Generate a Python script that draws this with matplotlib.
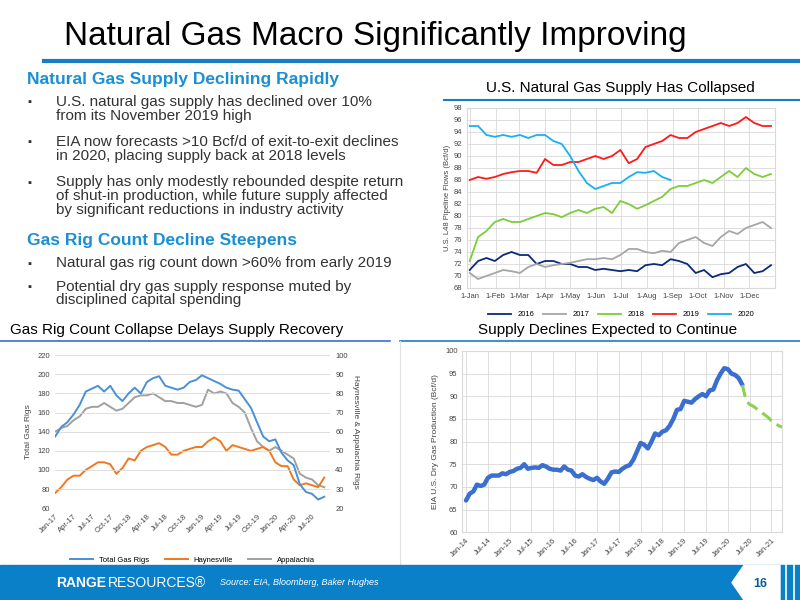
import numpy as np
import matplotlib.pyplot as plt
from matplotlib.patches import Rectangle, Polygon
from matplotlib.lines import Line2D

plt.rcParams['font.family'] = ['Liberation Sans', 'DejaVu Sans']

# ---- top right: daily pipeline flows, sampled every 10 days ----
days = np.arange(0, 361, 10)
flow_2016 = [71, 72.5, 73, 72.5, 73.5, 74, 73.5, 73.5, 72, 72.5, 72.5, 72, 72, 71.5, 71.5, 71, 71.2, 71, 70.8,
             71, 70.8, 71.8, 72, 71.8, 72.8, 72.5, 72, 70.5, 71, 69.8, 70.3, 70.5, 71.5, 72, 70.5, 70.8, 71.8]
flow_2017 = [70.5, 69.5, 70, 70.5, 71, 70.8, 70.5, 71.5, 72, 71.5, 71.8, 72, 72.2, 72.5, 72.8, 72.8, 73, 72.8, 73.5,
             74.5, 74.5, 74, 73.8, 74.2, 74, 75.5, 76, 76.5, 75.5, 75, 76.5, 77.5, 77, 78, 78.5, 79, 78]
flow_2018 = [72.5, 76.5, 77.5, 79, 79.5, 79, 79, 79.5, 80, 80.5, 80.3, 79.8, 80.5, 81, 80.5, 81.2, 81.5, 80.5, 82.5,
             82, 81.2, 81.8, 82.5, 83.2, 84.5, 85, 85, 85.5, 86, 85.5, 86.5, 87.5, 86.5, 88, 87, 86.5, 87]
flow_2019 = [86, 86.5, 86.2, 86.5, 87, 87.3, 87.5, 87.5, 87.2, 89.5, 88.5, 88.5, 89, 89, 89.5, 90, 89.5, 90, 91,
             88.8, 89.5, 91.5, 92, 92.5, 93.5, 93, 93, 94, 94.5, 95, 95.5, 95, 95.5, 96.5, 95.5, 95, 95]
flow_2020 = [95, 95, 93.5, 93.2, 93.5, 93.2, 93.5, 93, 93.5, 93.5, 92.5, 92, 90, 87.5, 85.5, 84.5, 85, 85.5, 85.5,
             86.5, 87.3, 87.2, 87.5, 86.5, 86]
month_starts = [0, 31, 59, 90, 120, 151, 181, 212, 243, 273, 304, 334]
month_labels = ['1-Jan', '1-Feb', '1-Mar', '1-Apr', '1-May', '1-Jun', '1-Jul', '1-Aug', '1-Sep', '1-Oct', '1-Nov', '1-Dec']

# ---- bottom left: rig counts, monthly Jan-17 .. Sep-20 ----
rig_months = np.arange(45)
total_rigs = [135, 145, 150, 158, 168, 182, 185, 188, 182, 188, 178, 172,
              180, 186, 180, 192, 196, 198, 188, 186, 184, 186, 192, 194,
              199, 196, 193, 190, 186, 184, 183, 174, 165, 150, 135, 130,
              132, 118, 110, 105, 85, 77, 75, 69, 72]
haynesville = [28, 31, 35, 37, 37, 40, 42, 44, 44, 43, 38, 41,
               46, 45, 50, 52, 53, 54, 52, 48, 48, 50, 51, 52,
               52, 55, 57, 55, 50, 53, 52, 51, 50, 51, 52, 50,
               44, 42, 42, 35, 32, 33, 32, 31, 36]
appalachia = [60, 62, 63, 66, 68, 72, 73, 73, 75, 73, 71, 72,
              75, 78, 79, 79, 80, 78, 76, 76, 75, 75, 74, 73,
              74, 82, 80, 81, 80, 75, 73, 70, 62, 55, 52, 50,
              52, 50, 48, 46, 38, 36, 35, 32, 31]
rig_ticks = ['Jan-17', 'Apr-17', 'Jul-17', 'Oct-17', 'Jan-18', 'Apr-18', 'Jul-18', 'Oct-18',
             'Jan-19', 'Apr-19', 'Jul-19', 'Oct-19', 'Jan-20', 'Apr-20', 'Jul-20']

# ---- bottom right: EIA dry gas production, monthly Jan-14 .. ----
prod_hist = [67, 68.5, 69, 70.5, 70.2, 70.5, 72, 72.5, 72.5, 72.5, 73, 72.8,
             73.3, 73.5, 74, 74.2, 75, 74, 74.2, 74.3, 74.2, 74.8, 74.5, 74,
             73.8, 73.8, 73.6, 74.5, 73.8, 73.6, 72.5, 72.3, 72.8, 72.2, 71.8, 71.5,
             72, 71.2, 70.7, 71.8, 73.2, 73.4, 73.3, 74, 74.5, 74.8, 76, 77.8,
             79.7, 79.3, 78.5, 80, 81.8, 81.4, 82.2, 82.5, 83.5, 85, 87, 87.2,
             89, 88.8, 88.6, 89.4, 90, 90.5, 90, 91.3, 91.5, 93.5, 95, 96.2,
             96, 95, 94.7, 94, 92.5]
prod_fcst = [92.5, 89, 88.2, 87.8, 87.2, 86.6, 86, 85.4, 84.6, 84, 83.5, 83.2]
prod_ticks = ['Jan-14', 'Jul-14', 'Jan-15', 'Jul-15', 'Jan-16', 'Jul-16', 'Jan-17', 'Jul-17',
              'Jan-18', 'Jul-18', 'Jan-19', 'Jul-19', 'Jan-20', 'Jul-20', 'Jan-21']

BLUE = '#1a8fd4'
TXT = '#333333'
GRID = '#d9d9d9'

fig = plt.figure(figsize=(8, 6), dpi=100)

# title and rules
fig.text(0.08, 0.94, 'Natural Gas Macro Significantly Improving', fontsize=24, va='center', color='black')
fig.add_artist(Line2D([0.055, 1.0], [0.899, 0.899], color='#1a7cc4', lw=3))

# left text block
fig.text(0.034, 0.868, 'Natural Gas Supply Declining Rapidly', fontsize=12.5, color=BLUE, weight='bold', va='center')
bullets = [(0.842, 'U.S. natural gas supply has declined over 10%\nfrom its November 2019 high'),
           (0.775, 'EIA now forecasts >10 Bcf/d of exit-to-exit declines\nin 2020, placing supply back at 2018 levels'),
           (0.708, 'Supply has only modestly rebounded despite return\nof shut-in production, while future supply affected\nby significant reductions in industry activity')]
for y, t in bullets:
    fig.text(0.034, y - 0.004, '\u25aa', fontsize=8, color=TXT, va='top')
    fig.text(0.07, y, t, fontsize=11, color=TXT, va='top', linespacing=0.98)
fig.text(0.034, 0.600, 'Gas Rig Count Decline Steepens', fontsize=12.5, color=BLUE, weight='bold', va='center')
for y, t in [(0.573, 'Natural gas rig count down >60% from early 2019'),
             (0.534, 'Potential dry gas supply response muted by\ndisciplined capital spending')]:
    fig.text(0.034, y - 0.004, '\u25aa', fontsize=8, color=TXT, va='top')
    fig.text(0.07, y, t, fontsize=11, color=TXT, va='top', linespacing=0.98)

# chart subtitles
fig.text(0.775, 0.853, 'U.S. Natural Gas Supply Has Collapsed', fontsize=11, ha='center', va='center', color='black')
fig.add_artist(Line2D([0.555, 1.0], [0.833, 0.833], color='#1a7cc4', lw=1.5))
fig.text(0.013, 0.450, 'Gas Rig Count Collapse Delays Supply Recovery', fontsize=11, va='center', color='black')
fig.text(0.76, 0.450, 'Supply Declines Expected to Continue', fontsize=11, ha='center', va='center', color='black')
fig.add_artist(Line2D([0.0, 0.488], [0.432, 0.432], color='#3a70c8', lw=1.2))
fig.add_artist(Line2D([0.5, 1.0], [0.432, 0.432], color='#1a7cc4', lw=1.2))
fig.add_artist(Line2D([0.5, 0.5], [0.06, 0.432], color='#e0e0e0', lw=0.8))

# ---- top-right chart ----
ax1 = fig.add_axes([0.584, 0.52, 0.385, 0.30])
for vals, col, lab in [(flow_2016, '#0b2a78', '2016'), (flow_2017, '#a6a6a6', '2017'),
                       (flow_2018, '#7dcc3a', '2018'), (flow_2019, '#ff1a1a', '2019'),
                       (flow_2020, '#18b0f0', '2020')]:
    ax1.plot(days[:len(vals)], vals, color=col, lw=1.3, label=lab)
ax1.set_xlim(-3, 365)
ax1.set_ylim(68, 98)
ax1.set_yticks(np.arange(68, 99, 2))
ax1.set_xticks(month_starts)
ax1.set_xticklabels(month_labels)
ax1.grid(True, color=GRID, lw=0.6)
ax1.tick_params(labelsize=5.5, length=0, colors='#444444')
for s in ax1.spines.values():
    s.set_color(GRID)
ax1.set_ylabel('U.S. L48 Pipeline Flows (Bcf/d)', fontsize=5.5, color='#444444', labelpad=2)
ax1.legend(loc='upper center', bbox_to_anchor=(0.5, -0.09), ncol=5, fontsize=5.5, frameon=False,
           handlelength=3, columnspacing=1.2)

# ---- bottom-left chart ----
ax2 = fig.add_axes([0.069, 0.153, 0.344, 0.255])
ax2.plot(rig_months, total_rigs, color='#4a90d8', lw=1.4, label='Total Gas Rigs')
ax2.set_ylim(60, 220)
ax2.set_yticks(np.arange(60, 221, 20))
ax2b = ax2.twinx()
ax2b.plot(rig_months, appalachia, color='#a0a0a0', lw=1.4, label='Appalachia')
ax2b.plot(rig_months, haynesville, color='#f07820', lw=1.4, label='Haynesville')
ax2b.set_ylim(20, 100)
ax2.set_zorder(ax2b.get_zorder() + 1)
ax2.patch.set_visible(False)
ax2.set_xlim(0, 45)
ax2.set_xticks(np.arange(0, 45, 3))
ax2.set_xticklabels(rig_ticks, rotation=45, ha='right', rotation_mode='anchor')
ax2.grid(True, axis='y', color=GRID, lw=0.6)
for a in (ax2, ax2b):
    a.tick_params(labelsize=5.5, length=0, colors='#444444')
    for s in a.spines.values():
        s.set_visible(False)
ax2.set_ylabel('Total Gas Rigs', fontsize=6, color='#444444')
ax2b.set_ylabel('Haynesville & Appalachia Rigs', fontsize=6, color='#444444', rotation=270, labelpad=8)
h = [Line2D([], [], color='#4a90d8', lw=1.4), Line2D([], [], color='#f07820', lw=1.4),
     Line2D([], [], color='#a0a0a0', lw=1.4)]
ax2.legend(h, ['Total Gas Rigs', 'Haynesville', 'Appalachia'], loc='upper center',
           bbox_to_anchor=(0.5, -0.27), ncol=3, fontsize=5.5, frameon=False, handlelength=3)

# ---- bottom-right chart ----
ax3 = fig.add_axes([0.578, 0.113, 0.40, 0.302])
ax3.plot(np.arange(len(prod_hist)), prod_hist, color='#3a6fd0', lw=3.2, solid_capstyle='round')
ax3.plot(np.arange(len(prod_fcst)) + len(prod_hist) - 1, prod_fcst, color='#8fd14f', lw=2.2, ls=(0, (4, 2)))
ax3.set_xlim(-1, 87)
ax3.set_ylim(60, 100)
ax3.set_yticks(np.arange(60, 101, 5))
ax3.set_xticks(np.arange(0, 85, 6))
ax3.set_xticklabels(prod_ticks, rotation=45, ha='right', rotation_mode='anchor')
ax3.grid(True, color=GRID, lw=0.6)
ax3.tick_params(labelsize=5.5, length=0, colors='#444444')
for s in ax3.spines.values():
    s.set_color(GRID)
ax3.set_ylabel('EIA U.S. Dry Gas Production (Bcf/d)', fontsize=6, color='#444444')

# ---- footer ----
fig.add_artist(Rectangle((0, 0), 1, 0.058, transform=fig.transFigure, color='#0a80c8', zorder=5))
fig.text(0.07, 0.029, 'RANGE', fontsize=10, color='white', weight='bold', va='center', zorder=6)
fig.text(0.135, 0.029, 'RESOURCES\u00ae', fontsize=10, color='white', va='center', zorder=6)
fig.text(0.275, 0.029, 'Source: EIA, Bloomberg, Baker Hughes', fontsize=6.5, color='white', style='italic',
         va='center', zorder=6)
fig.add_artist(Polygon([[0.915, 0.029], [0.93, 0.058], [0.975, 0.058], [0.975, 0.0], [0.93, 0.0]],
                       closed=True, transform=fig.transFigure, color='white', zorder=6))
fig.text(0.95, 0.027, '16', fontsize=9, color='#0a5c9c', weight='bold', ha='center', va='center', zorder=7)
for x in (0.982, 0.992):
    fig.add_artist(Line2D([x, x], [0, 0.058], color='white', lw=1.2, zorder=7))

fig.savefig('out.png', dpi=100)
